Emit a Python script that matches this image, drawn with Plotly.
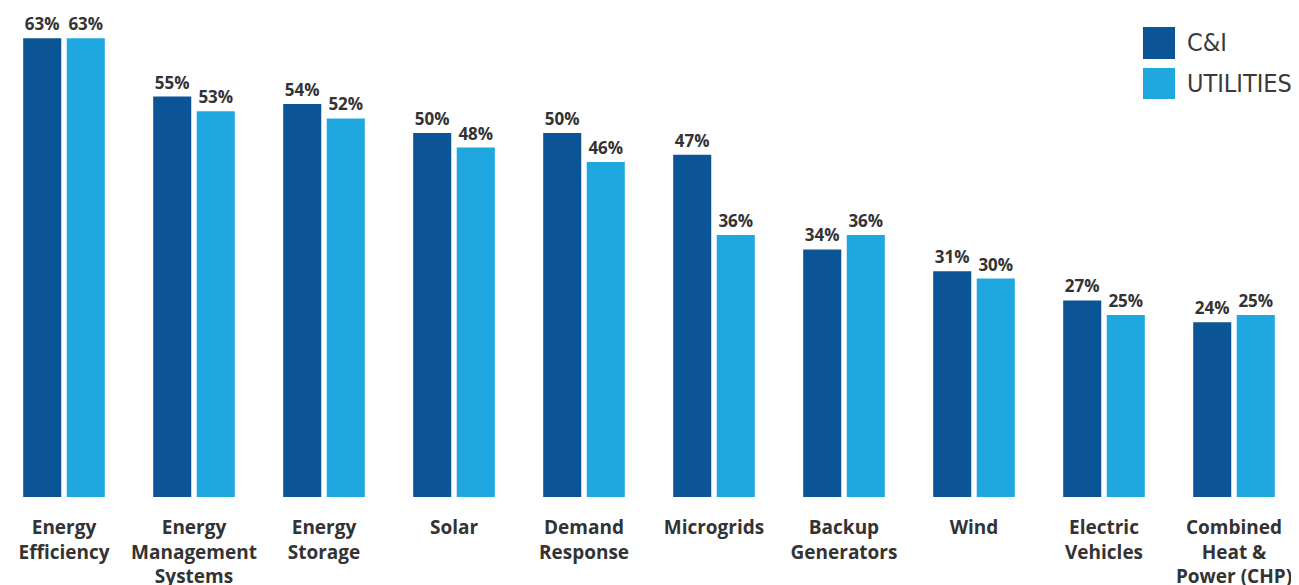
import plotly.graph_objects as go

categories = ["Energy<br>Efficiency", "Energy<br>Management<br>Systems", "Energy<br>Storage", "Solar",
              "Demand<br>Response", "Microgrids", "Backup<br>Generators", "Wind",
              "Electric<br>Vehicles", "Combined<br>Heat &<br>Power (CHP)"]
ci_values = [63, 55, 54, 50, 50, 47, 34, 31, 27, 24]
util_values = [63, 53, 52, 48, 46, 36, 36, 30, 25, 25]
series_names = ["C&I", "UTILITIES"]

DARK = "#0B5596"
LIGHT = "#1FA8E0"
TXT = "#333333"

OFF = 8  # page body margin
W, H = 1299 - OFF, 585 - OFF
PB = 497 - OFF  # plot bottom pixel within figure

fig = go.Figure()
for name, vals, col in [(series_names[0], ci_values, DARK), (series_names[1], util_values, LIGHT)]:
    fig.add_trace(go.Bar(
        x=list(range(len(categories))), y=vals, name=name, marker_color=col,
        marker_line_width=0,
        text=[f"{v}%" for v in vals], textposition="outside",
        textfont=dict(family="Open Sans", size=17, color=TXT, weight=700),
        cliponaxis=False, showlegend=False,
    ))

fig.update_layout(
    width=W, height=H,
    margin=dict(l=0, r=0, t=0, b=H - PB),
    paper_bgcolor="white", plot_bgcolor="white",
    barmode="group", bargap=0.33, bargroupgap=0.126,
    xaxis=dict(range=[-(64 - OFF) / 130, 9.5], tickmode="array",
               tickvals=list(range(len(categories))), ticktext=categories,
               tickfont=dict(family="Open Sans", size=19, color=TXT, weight=700),
               showgrid=False, zeroline=False, showline=False, ticks="",
               ticklabelstandoff=17, automargin=False),
    yaxis=dict(range=[0, PB / 7.28], visible=False, automargin=False),
)

def px(p):
    return (p - OFF) / W

def py(p):
    return (PB - (p - OFF)) / PB

# legend squares and labels
for (y0, y1, col, label) in [(27, 59, DARK, series_names[0]), (68, 99, LIGHT, series_names[1])]:
    fig.add_shape(type="rect", xref="paper", yref="paper",
                  x0=px(1143), x1=px(1175), y0=py(y1), y1=py(y0),
                  fillcolor=col, line_width=0)
    fig.add_annotation(xref="paper", yref="paper", x=px(1185), y=py((y0 + y1) / 2),
                       xanchor="left", yanchor="middle", showarrow=False,
                       text=label,
                       font=dict(family="DejaVu Sans Condensed, Liberation Sans Narrow, Open Sans, sans-serif",
                                 size=25, color="#3a3a3a"))

fig.write_html("out.html")
